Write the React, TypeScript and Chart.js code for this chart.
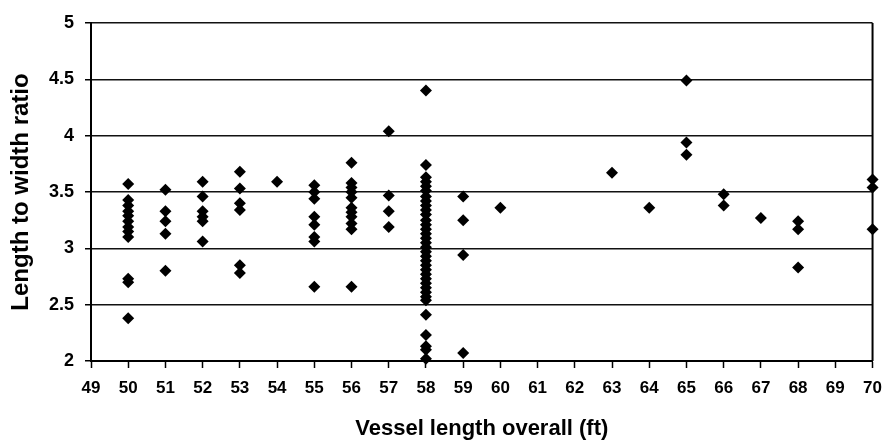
import React, { useEffect, useRef } from "react";
import { Chart, registerables } from "chart.js";

Chart.register(...registerables);

// Length-to-width ratios grouped by vessel length overall (ft)
const ft50 = [3.57, 3.43, 3.38, 3.33, 3.29, 3.24, 3.19, 3.15, 3.1, 2.73, 2.7, 2.38];
const ft51 = [3.52, 3.33, 3.24, 3.13, 2.8];
const ft52 = [3.59, 3.46, 3.33, 3.28, 3.24, 3.06];
const ft53 = [3.68, 3.53, 3.4, 3.34, 2.85, 2.78];
const ft54 = [3.59];
const ft55 = [3.56, 3.5, 3.44, 3.28, 3.21, 3.1, 3.06, 2.66];
const ft56 = [3.76, 3.58, 3.54, 3.5, 3.45, 3.36, 3.32, 3.28, 3.22, 3.17, 2.66];
const ft57 = [4.04, 3.47, 3.33, 3.19];
const ft58 = [
  4.4, 3.74, 3.63, 3.59, 3.55, 3.51, 3.46, 3.42, 3.38, 3.34, 3.3, 3.25, 3.21, 3.17,
  3.13, 3.09, 3.05, 3.01, 2.97, 2.93, 2.89, 2.85, 2.81, 2.77, 2.73, 2.69, 2.65, 2.61,
  2.57, 2.54, 2.41, 2.23, 2.13, 2.1, 2.02,
];
const ft59 = [3.46, 3.25, 2.94, 2.07];
const ft60 = [3.36];
const ft63 = [3.67];
const ft64 = [3.36];
const ft65 = [4.49, 3.94, 3.83];
const ft66 = [3.48, 3.38];
const ft67 = [3.27];
const ft68 = [3.24, 3.17, 2.83];
const ft70 = [3.61, 3.54, 3.17];

const lengths = [50, 51, 52, 53, 54, 55, 56, 57, 58, 59, 60, 63, 64, 65, 66, 67, 68, 70];
const ratioGroups = [
  ft50, ft51, ft52, ft53, ft54, ft55, ft56, ft57, ft58, ft59, ft60, ft63, ft64, ft65,
  ft66, ft67, ft68, ft70,
];

const xMin = 49;
const xMax = 70;
const yMin = 2;
const yMax = 5;

const xTitle = "Vessel length overall (ft)";
const yTitle = "Length to width ratio";

const FONT = "'Liberation Sans', Arial, sans-serif";

export default function App() {
  const canvasRef = useRef<HTMLCanvasElement | null>(null);

  useEffect(() => {
    const canvas = canvasRef.current;
    if (!canvas) return;

    const points: { x: number; y: number }[] = [];
    lengths.forEach((len, i) => {
      ratioGroups[i].forEach((r) => points.push({ x: len, y: r }));
    });

    const frame = {
      id: "frame",
      afterDatasetsDraw(chart: any) {
        const { ctx, chartArea } = chart;
        ctx.save();
        ctx.strokeStyle = "#000";
        ctx.lineWidth = 2;
        ctx.beginPath();
        ctx.moveTo(chartArea.right, chartArea.top);
        ctx.lineTo(chartArea.right, chartArea.bottom);
        ctx.stroke();
        ctx.restore();
      },
    };

    const chart = new Chart(canvas, {
      type: "scatter",
      data: {
        datasets: [
          {
            data: points,
            pointStyle: "rectRot",
            pointRadius: 6,
            pointBackgroundColor: "#000",
            pointBorderColor: "#000",
            pointBorderWidth: 0,
            clip: false,
          } as any,
        ],
      },
      options: {
        responsive: false,
        animation: false,
        layout: { padding: { top: 23, right: 14, left: 0, bottom: 0 } },
        plugins: {
          legend: { display: false },
          tooltip: { enabled: false },
        },
        scales: {
          x: {
            type: "linear",
            min: xMin,
            max: xMax,
            afterFit: (scale: any) => {
              scale.height = 81;
            },
            ticks: {
              stepSize: 1,
              autoSkip: false,
              maxRotation: 0,
              color: "#000",
              padding: 10,
              font: { family: FONT, size: 17, weight: "bold" },
            },
            grid: {
              display: true,
              drawOnChartArea: false,
              drawTicks: true,
              tickLength: 7,
              tickColor: "#000",
              tickWidth: 1.5,
            },
            border: { display: true, color: "#000", width: 2 },
            title: {
              display: true,
              text: xTitle,
              color: "#000",
              font: { family: FONT, size: 22, weight: "bold" },
              padding: { top: 0, bottom: 0 },
            },
          },
          y: {
            type: "linear",
            min: yMin,
            max: yMax,
            afterFit: (scale: any) => {
              scale.width = 91;
            },
            ticks: {
              stepSize: 0.5,
              color: "#000",
              padding: 11,
              callback: (v: any) => String(v),
              font: { family: FONT, size: 18, weight: "bold" },
            },
            grid: {
              display: true,
              color: "#111",
              lineWidth: 1.5,
              drawTicks: true,
              tickLength: 6,
              tickColor: "#000",
            },
            border: { display: true, color: "#000", width: 2 },
            title: {
              display: true,
              text: yTitle,
              color: "#000",
              font: { family: FONT, size: 24, weight: "bold" },
              padding: { top: 7, bottom: 0 },
            },
          },
        },
      },
      plugins: [frame],
    });

    return () => chart.destroy();
  }, []);

  return (
    <div style={{ position: "absolute", left: 0, top: 0, width: 892, height: 442, background: "#fff" }}>
      <canvas ref={canvasRef} width={892} height={442} style={{ display: "block" }} />
    </div>
  );
}
